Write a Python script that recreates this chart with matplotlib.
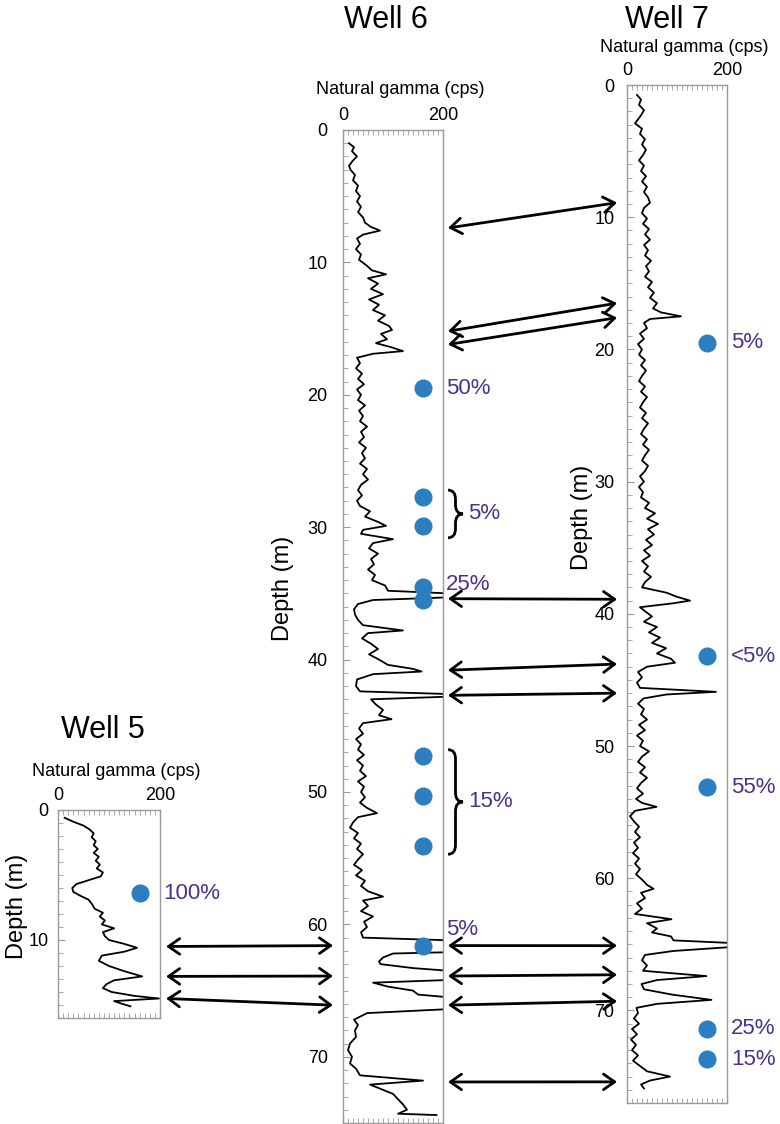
import matplotlib
matplotlib.use("Agg")
import matplotlib.pyplot as plt
from matplotlib import transforms
from matplotlib.patches import ConnectionPatch, PathPatch
from matplotlib.path import Path
from matplotlib.ticker import MultipleLocator, FixedLocator

plt.rcParams['font.family'] = ['Liberation Sans', 'DejaVu Sans']

# natural gamma logs (depth in m, gamma in cps)
well5_depth = [0.6, 0.9, 1.2, 1.5, 1.8, 2.1, 2.4, 2.7, 3.0, 3.3, 3.6, 3.9, 4.2, 4.5, 4.8,
               5.1, 5.4, 5.7, 6.0, 6.3, 6.6, 6.9, 7.2, 7.6, 7.9, 8.2, 8.5, 8.8, 9.1, 9.4,
               9.7, 10.0, 10.3, 10.6, 10.9, 11.2, 11.6, 12.0, 12.4, 12.8, 13.1, 13.4, 13.7,
               14.0, 14.3, 14.5, 14.7, 14.9, 15.1]
well5_gamma = [13, 30, 50, 62, 70, 66, 74, 70, 78, 70, 80, 74, 82, 76, 88,
               84, 60, 36, 28, 30, 44, 60, 66, 72, 88, 82, 92, 86, 110, 88,
               92, 100, 130, 155, 130, 86, 80, 100, 130, 165, 110, 95, 88,
               105, 150, 198, 110, 125, 142]

well6_depth = [1.0, 1.3, 1.6, 2.0, 2.3, 2.7, 3.0, 3.4, 3.8, 4.2, 4.6, 5.0, 5.4, 5.8, 6.2,
               6.6, 7.0, 7.3, 7.6, 7.9, 8.2, 8.6, 9.0, 9.4, 9.8, 10.2, 10.6, 10.9, 11.2,
               11.6, 12.0, 12.4, 12.8, 13.2, 13.6, 14.0, 14.4, 14.8, 15.1, 15.4, 15.8,
               16.1, 16.4, 16.7, 16.9, 17.2, 17.6, 18.0, 18.4, 18.8, 19.2, 19.6, 20.0,
               20.4, 20.8, 21.2, 21.6, 22.0, 22.4, 22.8, 23.2, 23.6, 24.0, 24.4, 24.8,
               25.2, 25.6, 26.0, 26.4, 26.8, 27.2, 27.6, 28.0, 28.4, 28.8, 29.2, 29.6,
               29.9, 30.2, 30.5, 30.9, 31.2, 31.6, 32.0, 32.4, 32.8, 33.2, 33.6, 34.0,
               34.4, 34.8, 35.0, 35.3, 35.5, 35.8, 36.2, 36.6, 37.0, 37.4, 37.8, 38.0,
               38.4, 38.8, 39.2, 39.6, 40.0, 40.4, 40.7, 40.9, 41.1, 41.5, 42.0, 42.4,
               42.6, 42.8, 43.0, 43.4, 43.8, 44.2, 44.5, 44.8, 45.2, 45.6, 46.0, 46.4,
               46.8, 47.2, 47.6, 48.0, 48.4, 48.8, 49.2, 49.6, 50.0, 50.4, 50.8, 51.2,
               51.6, 51.9, 52.3, 52.7, 53.1, 53.5, 53.9, 54.3, 54.7, 55.1, 55.5, 55.9,
               56.3, 56.7, 57.1, 57.5, 57.9, 58.2, 58.6, 59.0, 59.4, 59.8, 60.2, 60.6,
               61.0, 61.2, 62.1, 62.2, 62.5, 62.8, 63.0, 63.3, 63.5, 64.2, 64.4, 64.7,
               65.0, 65.3, 65.5, 66.4, 66.7, 67.2, 67.6, 68.0, 68.5, 69.0, 69.5, 70.0,
               70.5, 70.9, 71.4, 71.8, 72.1, 72.5, 72.8, 73.2, 73.6, 74.0, 74.3, 74.4]
well6_gamma = [12, 22, 18, 28, 20, 12, 15, 24, 20, 30, 26, 34, 28, 36, 30,
               40, 44, 55, 74, 40, 28, 34, 26, 36, 32, 46, 58, 86, 50,
               70, 56, 80, 52, 72, 60, 84, 70, 92, 98, 76, 88,
               66, 96, 120, 60, 28, 34, 26, 38, 30, 42, 28, 36,
               30, 44, 32, 40, 34, 48, 36, 42, 32, 46, 38, 44,
               34, 48, 40, 50, 36, 30, 38, 28, 34, 54, 44, 70,
               86, 40, 36, 100, 60, 52, 70, 56, 62, 50, 64, 58,
               84, 90, 210, 210, 60, 30, 22, 24, 30, 40, 120, 50,
               38, 56, 70, 52, 72, 90, 140, 157, 60, 28, 26, 34,
               210, 210, 56, 66, 80, 72, 97, 40, 32, 40, 26, 36,
               30, 42, 28, 40, 34, 46, 30, 42, 36, 44, 34, 48,
               68, 30, 20, 14, 30, 22, 36, 28, 40, 30, 22, 38,
               26, 44, 36, 50, 80, 40, 50, 36, 60, 42, 48, 36,
               40, 210, 210, 100, 80, 72, 75, 140, 210, 210, 60, 90,
               140, 150, 210, 210, 48, 22, 30, 24, 26, 14, 10, 18,
               14, 26, 34, 160, 54, 80, 100, 110, 120, 128, 110, 187]

well7_depth = [0.75, 1.1, 1.5, 1.9, 2.3, 2.6, 2.9, 3.3, 3.7, 4.1, 4.5, 4.9, 5.3, 5.7, 6.1,
               6.5, 6.9, 7.3, 7.7, 8.1, 8.5, 8.9, 9.3, 9.7, 10.1, 10.5, 10.9, 11.3, 11.7,
               12.1, 12.5, 12.9, 13.3, 13.7, 14.1, 14.5, 14.9, 15.3, 15.7, 16.1, 16.5,
               16.9, 17.2, 17.5, 17.7, 18.0, 18.4, 18.8, 19.2, 19.6, 20.0, 20.4, 20.8,
               21.2, 21.6, 22.0, 22.4, 22.8, 23.2, 23.6, 24.0, 24.4, 24.8, 25.2, 25.6,
               26.0, 26.4, 26.8, 27.2, 27.6, 28.0, 28.4, 28.8, 29.2, 29.6, 30.0, 30.4,
               30.8, 31.2, 31.6, 32.0, 32.4, 32.8, 33.2, 33.6, 34.0, 34.4, 34.8, 35.2,
               35.6, 36.0, 36.4, 36.8, 37.2, 37.6, 38.0, 38.4, 38.7, 39.0, 39.2, 39.5,
               39.8, 40.2, 40.6, 41.0, 41.4, 41.8, 42.2, 42.6, 43.0, 43.4, 43.7, 44.0,
               44.4, 44.8, 45.2, 45.6, 45.9, 46.1, 46.4, 46.8, 47.2, 47.6, 48.0, 48.4,
               48.8, 49.2, 49.6, 50.0, 50.4, 50.8, 51.2, 51.6, 52.0, 52.4, 52.8, 53.2,
               53.6, 54.0, 54.3, 54.6, 54.9, 55.3, 55.7, 56.1, 56.5, 56.9, 57.3, 57.7,
               58.1, 58.5, 58.9, 59.3, 59.7, 60.1, 60.5, 60.8, 61.1, 61.5, 61.9, 62.3,
               62.7, 63.1, 63.4, 63.8, 64.1, 64.4, 64.7, 64.9, 65.2, 65.5, 65.8, 66.2,
               66.6, 67.0, 67.4, 67.7, 68.0, 68.4, 68.8, 69.2, 69.5, 69.8, 70.2, 70.6,
               71.0, 71.4, 71.8, 72.2, 72.6, 73.0, 73.4, 73.8, 74.2, 74.6, 75.0, 75.3,
               75.6, 75.9]
well7_gamma = [20, 28, 24, 34, 28, 22, 16, 30, 26, 36, 30, 38, 32, 24, 34,
               28, 38, 30, 40, 34, 42, 46, 34, 30, 40, 32, 44, 36, 46,
               34, 42, 36, 48, 38, 44, 36, 50, 42, 54, 46, 60,
               52, 68, 108, 46, 34, 40, 26, 34, 22, 30, 24, 36,
               28, 38, 30, 24, 36, 28, 40, 32, 26, 38, 30, 42,
               34, 28, 40, 32, 44, 36, 30, 42, 36, 26, 34, 24,
               32, 28, 44, 36, 56, 40, 62, 42, 54, 38, 50, 34,
               46, 30, 42, 34, 48, 36, 30, 79, 99, 126, 93, 26,
               36, 50, 34, 60, 44, 66, 50, 78, 60, 88, 96, 40,
               22, 30, 20, 26, 178, 79, 33, 22, 34, 28, 40, 24,
               36, 20, 32, 26, 44, 30, 22, 36, 26, 40, 28, 20,
               32, 18, 30, 59, 16, 6, 14, 24, 16, 26, 14, 22,
               12, 24, 16, 26, 18, 30, 40, 53, 28, 36, 20, 30,
               16, 89, 40, 60, 50, 88, 93, 210, 210, 93, 36, 30,
               40, 32, 159, 60, 29, 34, 90, 169, 60, 19, 22, 14,
               24, 10, 20, 8, 18, 10, 22, 12, 26, 40, 86, 46,
               28, 34]

# sampled intervals (dots) and their labels
well5_samples = [6.4]
well5_labels = [(6.4, '100%')]
well6_samples = [19.5, 27.7, 29.9, 34.5, 35.5, 47.3, 50.3, 54.1, 61.6]
well6_labels = [(19.5, '50%'), (34.3, '25%'), (60.4, '5%')]
well6_groups = [(27.2, 30.8, '5%'), (46.8, 54.7, '15%')]
well7_samples = [19.5, 43.2, 53.1, 71.4, 73.7]
well7_labels = [(19.5, '5%'), (43.2, '<5%'), (53.1, '55%'), (71.4, '25%'), (73.7, '15%')]
sample_gamma = 160

# correlation ties (depth in left well, depth in right well)
ties_5_6 = [(10.5, 61.6), (12.8, 63.9), (14.5, 66.1)]
ties_6_7 = [(7.4, 8.9), (15.2, 16.5), (16.2, 17.6), (35.4, 38.9), (40.8, 43.8),
            (42.7, 46.0), (61.6, 65.1), (63.9, 67.3), (66.1, 69.3), (71.9, 75.4)]

W, H = 780, 1124
DOT = '#2b7fc1'
PCT = '#48318f'
GREY = '#9a9a9a'

fig = plt.figure(figsize=(W / 100, H / 100), dpi=100)


def px_axes(left, top, right, bottom):
    return fig.add_axes([left / W, 1 - bottom / H, (right - left) / W, (bottom - top) / H])


def style_log(ax, depth_max, ypad, xlabel_off):
    ax.set_xlim(0, 200)
    ax.set_ylim(depth_max, 0)
    for s in ax.spines.values():
        s.set_color(GREY)
        s.set_linewidth(1)
    ax.xaxis.set_major_locator(FixedLocator([0, 200]))
    ax.xaxis.set_minor_locator(MultipleLocator(10))
    ax.yaxis.set_major_locator(MultipleLocator(10))
    ax.yaxis.set_minor_locator(MultipleLocator(1))
    ax.tick_params(axis='x', which='both', direction='in', top=True, bottom=True,
                   labeltop=True, labelbottom=False, color=GREY, labelsize=13, pad=4)
    ax.tick_params(axis='y', which='both', direction='in', left=True, right=False,
                   color=GREY, labelsize=13, pad=ypad)
    ax.tick_params(which='major', length=5)
    ax.tick_params(which='minor', length=3.5)
    ax.annotate('Natural gamma (cps)', xy=(0.57, 1), xycoords='axes fraction',
                xytext=(0, xlabel_off), textcoords='offset points',
                ha='center', va='center', fontsize=13)


def brace(ax, top, bottom, x0, x1):
    tr = transforms.blended_transform_factory(ax.transAxes, ax.transData)
    xm = (x0 + x1) / 2
    mid = (top + bottom) / 2
    q = 0.7
    verts = [(x0, top), (xm, top), (xm, top + q),
             (xm, mid - q), (xm, mid), (x1, mid),
             (xm, mid), (xm, mid + q),
             (xm, bottom - q), (xm, bottom), (x0, bottom)]
    codes = [Path.MOVETO, Path.CURVE3, Path.CURVE3, Path.LINETO, Path.CURVE3, Path.CURVE3,
             Path.CURVE3, Path.CURVE3, Path.LINETO, Path.CURVE3, Path.CURVE3]
    ax.add_patch(PathPatch(Path(verts, codes), transform=tr, fill=False,
                           lw=2, color='black', clip_on=False))


def draw_well(ax, depth, gamma, samples, labels, label_x):
    ax.plot(gamma, depth, color='black', lw=1.3)
    ax.plot([sample_gamma] * len(samples), samples, 'o', color=DOT, ms=12,
            zorder=5, clip_on=False)
    tr = transforms.blended_transform_factory(ax.transAxes, ax.transData)
    for d, txt in labels:
        ax.text(label_x, d, txt, transform=tr, ha='left', va='center',
                fontsize=16, color=PCT)


ax5 = px_axes(58, 810, 160, 1018)
ax6 = px_axes(343, 130, 443, 1123)
ax7 = px_axes(627, 85, 727, 1103)

style_log(ax5, 16, 7, 28)
style_log(ax6, 75, 11, 29)
style_log(ax7, 77, 9, 27)

draw_well(ax5, well5_depth, well5_gamma, well5_samples, well5_labels, 1.03)
draw_well(ax6, well6_depth, well6_gamma, well6_samples, well6_labels, 1.03)
draw_well(ax7, well7_depth, well7_gamma, well7_samples, well7_labels, 1.04)

tr6 = transforms.blended_transform_factory(ax6.transAxes, ax6.transData)
for top, bottom, txt in well6_groups:
    brace(ax6, top, bottom, 1.05, 1.20)
    ax6.text(1.25, (top + bottom) / 2, txt, transform=tr6, ha='left', va='center',
             fontsize=16, color=PCT)

# titles and depth labels
fig.text(103 / W, 1 - 730 / H, 'Well 5', ha='center', va='center', fontsize=22)
fig.text(386 / W, 1 - 20 / H, 'Well 6', ha='center', va='center', fontsize=22)
fig.text(667 / W, 1 - 20 / H, 'Well 7', ha='center', va='center', fontsize=22)
fig.text(17 / W, 1 - 906 / H, 'Depth (m)', rotation=90, ha='center', va='center', fontsize=17)
fig.text(283 / W, 1 - 588 / H, 'Depth (m)', rotation=90, ha='center', va='center', fontsize=17)
fig.text(582 / W, 1 - 517 / H, 'Depth (m)', rotation=90, ha='center', va='center', fontsize=17)


def tie(ax_a, xa, da, ax_b, xb, db):
    ta = transforms.blended_transform_factory(ax_a.transAxes, ax_a.transData)
    tb = transforms.blended_transform_factory(ax_b.transAxes, ax_b.transData)
    con = ConnectionPatch(xyA=(xa, da), coordsA=ta, xyB=(xb, db), coordsB=tb,
                          arrowstyle='<->,head_length=0.5,head_width=0.35',
                          mutation_scale=16, lw=2, color='black')
    fig.add_artist(con)


for a, b in ties_5_6:
    tie(ax5, 1.06, a, ax6, -0.10, b)
for a, b in ties_6_7:
    tie(ax6, 1.05, a, ax7, -0.10, b)

fig.savefig('out.png', dpi=100)
